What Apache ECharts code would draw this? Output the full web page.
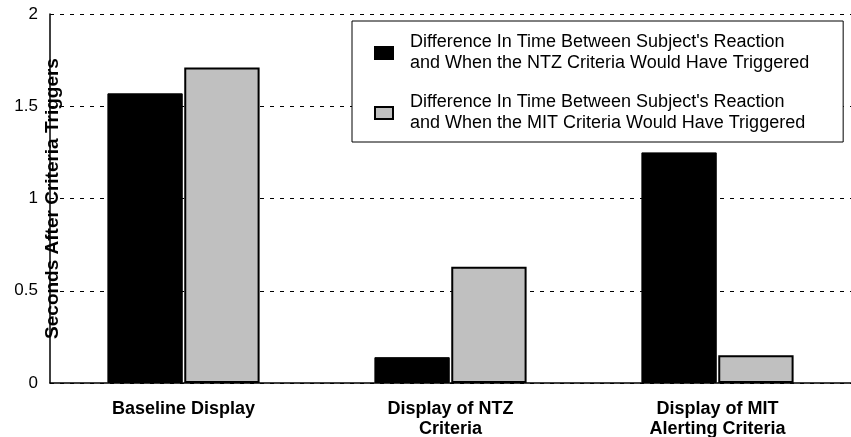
<!DOCTYPE html>
<html>
<head>
<meta charset="utf-8">
<script src="https://cdn.jsdelivr.net/npm/echarts@6/dist/echarts.min.js"></script>
<style>
  html, body { margin: 0; padding: 0; background: #fff; }
  #chart { width: 851px; height: 437px; }
</style>
</head>
<body>
<div id="chart"></div>
<script>
// data
var categories = ['Baseline Display', 'Display of NTZ\nCriteria', 'Display of MIT\nAlerting Criteria'];
var ntzValues = [1.57, 0.14, 1.25];
var mitValues = [1.71, 0.63, 0.15];
var seriesNames = [
  "Difference In Time Between Subject's Reaction\nand When the NTZ Criteria Would Have Triggered",
  "Difference In Time Between Subject's Reaction\nand When the MIT Criteria Would Have Triggered"
];

var chart = echarts.init(document.getElementById('chart'));
chart.setOption({
  animation: false,
  textStyle: { fontFamily: 'Liberation Sans, Arial, sans-serif' },
  grid: { left: 50, right: 0, top: 14, bottom: 54, containLabel: false, outerBoundsMode: 'none' },
  legend: {
    orient: 'vertical',
    left: 352,
    top: 21,
    padding: [11, 34, 8, 22],
    itemGap: 18,
    itemWidth: 18,
    itemHeight: 12,
    backgroundColor: '#fff',
    borderColor: '#000',
    borderWidth: 1,
    textStyle: { fontSize: 18, color: '#000', lineHeight: 21, padding: [0, 0, 0, 12] },
    data: [
      { name: seriesNames[0], icon: 'rect' },
      { name: seriesNames[1], icon: 'rect' }
    ]
  },
  xAxis: {
    type: 'category',
    data: categories,
    axisLine: { lineStyle: { color: '#000', width: 1.5 } },
    axisTick: { show: false },
    axisLabel: {
      margin: 16,
      color: '#000',
      fontSize: 18,
      fontWeight: 'bold',
      lineHeight: 20
    }
  },
  yAxis: {
    type: 'value',
    min: 0,
    max: 2,
    interval: 0.5,
    name: 'Seconds After Criteria Triggers',
    nameLocation: 'middle',
    nameGap: -12,
    nameMoveOverlap: false,
    nameTextStyle: { fontSize: 19, fontWeight: 'bold', color: '#000' },
    axisLine: { show: true, lineStyle: { color: '#000', width: 1.5 } },
    axisTick: { show: false },
    axisLabel: { color: '#000', fontSize: 17, margin: 12 },
    splitLine: {
      show: true,
      lineStyle: { color: '#000', type: [4, 6], width: 1 }
    }
  },
  series: [
    {
      name: seriesNames[0],
      type: 'bar',
      data: ntzValues,
      barGap: '2%',
      barCategoryGap: '43%',
      itemStyle: { color: '#000', borderColor: '#000', borderWidth: 1 }
    },
    {
      name: seriesNames[1],
      type: 'bar',
      data: mitValues,
      itemStyle: { color: '#c0c0c0', borderColor: '#000', borderWidth: 2 }
    }
  ]
});
</script>
</body>
</html>
